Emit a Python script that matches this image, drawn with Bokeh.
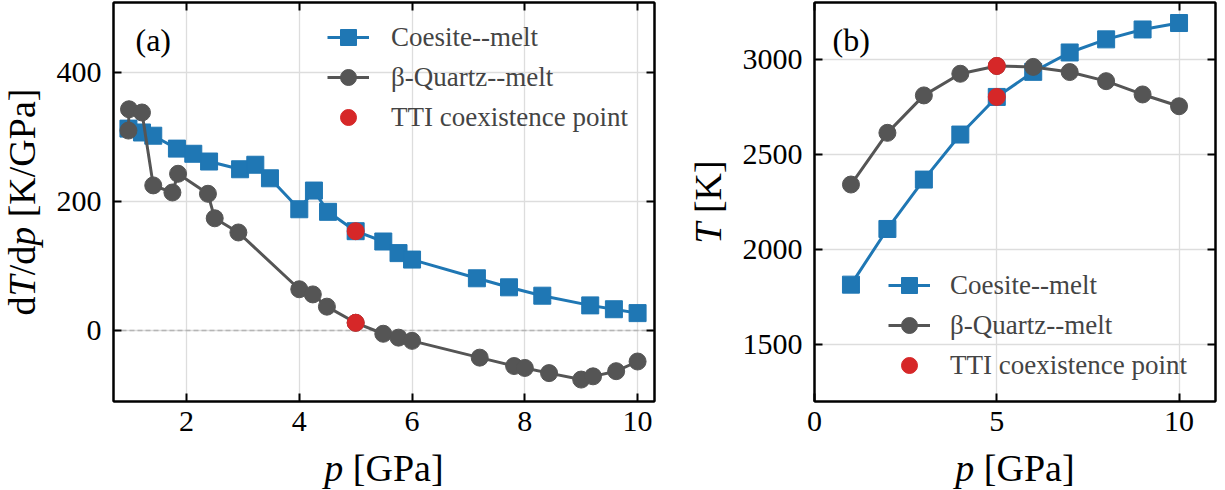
import math
from bokeh.plotting import figure
from bokeh.models import Range1d, FixedTicker, LinearAxis, Label, Legend, LegendItem, Span
from bokeh.layouts import row, column
from bokeh.embed import file_html
from bokeh.resources import INLINE

# ---------------- data ----------------
# panel (a): dT/dp vs p
coe_a_p = [0.97, 1.21, 1.41, 1.83, 2.12, 2.40, 2.95, 3.22, 3.48, 4.00, 4.26, 4.51, 5.00,
           5.49, 5.76, 6.00, 7.15, 7.72, 8.31, 9.16, 9.58, 10.00]
coe_a_dtdp = [313, 307, 302, 282, 274, 262, 250, 257, 236, 188, 217, 184, 154,
              138, 120, 110, 81, 67, 54, 39, 33, 27]
qtz_a_p = [0.97, 0.98, 1.21, 1.41, 1.75, 1.85, 2.38, 2.50, 2.92, 4.00, 4.24, 4.49, 5.00,
           5.49, 5.76, 6.00, 7.20, 7.81, 8.00, 8.43, 9.00, 9.21, 9.62, 10.00]
qtz_a_dtdp = [310, 343, 338, 225, 214, 243, 212, 174, 152, 64, 56, 37, 12,
              -5, -11, -16, -42, -55, -58, -66, -76, -71, -63, -48]
tti_a_p = [5.0, 5.0]
tti_a_dtdp = [154, 12]

# panel (b): T vs p
p_b = [1, 2, 3, 4, 5, 6, 7, 8, 9, 10]
coe_b_T = [1815, 2108, 2368, 2605, 2803, 2935, 3037, 3106, 3158, 3192]
qtz_b_T = [2342, 2614, 2811, 2925, 2966, 2961, 2934, 2886, 2816, 2754]
tti_b_p = [5, 5]
tti_b_T = [2803, 2966]

xticks_a = [2, 4, 6, 8, 10]
yticks_a = [0, 200, 400]
xticks_b = [0, 5, 10]
yticks_b = [1500, 2000, 2500, 3000]

legend_labels = ["Coesite--melt", "β-Quartz--melt", "TTI coexistence point"]

# ---------------- style ----------------
FONT = "Liberation Serif"
BLUE = "#1f77b4"
GRAY = "#555555"
RED = "#d62728"
GRID = "#dddddd"
TICK_FS = 30
LAB_FS = 38
LEG_FS = 27
PAN_FS = 32
MID = 0.3375  # em distance from alphabetic baseline up to the middle of the text box

ADV_REG = {"d": 1024, "/": 569, " ": 512, "[": 682, "]": 682, "K": 1479, "G": 1479, "P": 1139, "a": 909}
ADV_IT = {"T": 1139, "p": 1024, " ": 512}


def text_w(s, italic, size):
    tab = ADV_IT if italic else ADV_REG
    return sum(tab[c] for c in s) * size / 2048.0


def total_w(pieces, size):
    return sum(text_w(t, i, size) for t, i in pieces)


def make_fig(xr, yr, fw, fh, bl, br, bt, bb, xt, yt):
    p = figure(frame_width=fw, frame_height=fh, x_range=Range1d(*xr), y_range=Range1d(*yr),
               min_border_left=bl, min_border_right=br, min_border_top=bt, min_border_bottom=bb,
               output_backend="svg", toolbar_location=None,
               background_fill_color="white", border_fill_color="white")
    p.outline_line_color = "black"
    p.outline_line_width = 2
    p.outline_line_alpha = 1
    for ax, ticks, so in ((p.xaxis[0], xt, 10), (p.yaxis[0], yt, 12)):
        ax.ticker = FixedTicker(ticks=ticks)
        ax.major_label_text_font = FONT
        ax.major_label_text_font_size = f"{TICK_FS}px"
        ax.major_label_text_color = "black"
        ax.major_tick_in = 8
        ax.major_tick_out = 0
        ax.major_tick_line_width = 2
        ax.major_tick_line_color = "black"
        ax.minor_tick_line_color = None
        ax.axis_line_width = 2
        ax.axis_line_color = "black"
        ax.major_label_standoff = so
    p.xgrid.ticker = FixedTicker(ticks=xt)
    p.ygrid.ticker = FixedTicker(ticks=yt)
    for g in (p.xgrid, p.ygrid):
        g.grid_line_color = GRID
        g.grid_line_width = 1.3
    for loc, ticks in (("above", xt), ("right", yt)):
        ax = LinearAxis(ticker=FixedTicker(ticks=ticks), major_label_text_font_size="0px",
                        major_label_text_color=None,
                        major_label_standoff=0, major_tick_in=8, major_tick_out=0,
                        major_tick_line_width=2, minor_tick_line_color=None,
                        axis_line_width=2, axis_line_color="black")
        p.add_layout(ax, loc)
    return p


def make_strip(w, h):
    s = figure(frame_width=w, frame_height=h, x_range=Range1d(0, w), y_range=Range1d(0, h),
               min_border_left=0, min_border_right=0, min_border_top=0, min_border_bottom=0,
               x_axis_type=None, y_axis_type=None, output_backend="svg", toolbar_location=None,
               background_fill_color="white", border_fill_color="white")
    s.outline_line_color = None
    s.xgrid.visible = False
    s.ygrid.visible = False
    return s


def add_pieces(p, pieces, size, bx, by, rotated):
    """Multi-style label in canvas pixels (x from left, y from top).
    (bx, by) = start of the alphabetic baseline."""
    off = MID * size
    cum = 0.0
    for txt, it in pieces:
        body = txt.lstrip(" ")
        cum += text_w(txt[:len(txt) - len(body)], it, size)
        if rotated:
            x, y, ang = bx - off, by - cum, math.pi / 2
        else:
            x, y, ang = bx + cum, by - off, 0
        p.add_layout(Label(x=x, y=y, x_units="canvas", y_units="canvas", text=body, angle=ang,
                           text_font=FONT, text_font_size=f"{size}px",
                           text_font_style="italic" if it else "normal",
                           text_align="left", text_baseline="middle", text_color="black"))
        cum += text_w(body, it, size)


H = 490
FH = 399
FT = 2      # frame top
BB = 45     # bottom border for tick labels
MAIN_H = FT + FH + BB
STRIP_H = H - MAIN_H
XLAB_BASE = 480.5 - MAIN_H

# ---------------- panel (a) ----------------
YSA_W = 52          # y-label strip width
FWA = 541
LA = 113 - YSA_W    # left border inside figure
RA = 684 - 654
pa = make_fig((0.705, 10.30), (-110, 508.5), FWA, FH, LA, RA, FT, BB, xticks_a, yticks_a)
pa.add_layout(Span(location=0, dimension="width", line_color="#b5b5b5", line_dash="5 3",
                   line_width=1.5, level="underlay"))
la1 = pa.line(coe_a_p, coe_a_dtdp, line_color=BLUE, line_width=3)
sa1 = pa.scatter(coe_a_p, coe_a_dtdp, marker="square", size=17, fill_color=BLUE, line_color=BLUE)
la2 = pa.line(qtz_a_p, qtz_a_dtdp, line_color=GRAY, line_width=3)
sa2 = pa.scatter(qtz_a_p, qtz_a_dtdp, marker="circle", size=17, fill_color=GRAY, line_color=GRAY)
sa3 = pa.scatter(tti_a_p, tti_a_dtdp, marker="circle", size=17, fill_color=RED, line_color=RED)

leg_a = Legend(items=[LegendItem(label=legend_labels[0], renderers=[la1, sa1]),
                      LegendItem(label=legend_labels[1], renderers=[la2, sa2]),
                      LegendItem(label=legend_labels[2], renderers=[sa3])],
               location=(214, 264), orientation="vertical", glyph_width=42, glyph_height=40,
               label_height=40, label_standoff=22, spacing=0, padding=0, margin=0,
               border_line_color=None, background_fill_alpha=0,
               label_text_font=FONT, label_text_font_size=f"{LEG_FS}px")
pa.add_layout(leg_a)
pa.add_layout(Label(x=LA + 22, y=FT + 37, x_units="canvas", y_units="canvas", text="(a)",
                    text_font=FONT, text_font_size=f"{PAN_FS}px", text_baseline="middle",
                    text_align="left", text_color="black"))

ylab_a = make_strip(YSA_W, H)
yl_a = [("d", False), ("T", True), ("/d", False), ("p", True), (" [K/GPa]", False)]
add_pieces(ylab_a, yl_a, LAB_FS, 34, FT + FH / 2 + total_w(yl_a, LAB_FS) / 2, True)

xlab_a = make_strip(LA + FWA + RA, STRIP_H)
xl = [("p", True), (" [GPa]", False)]
add_pieces(xlab_a, xl, LAB_FS, LA + FWA / 2 - total_w(xl, LAB_FS) / 2, XLAB_BASE, False)

# ---------------- panel (b) ----------------
YSB_X = 684
YSB_W = 735 - YSB_X
FWB = 401
LB = 814 - 735
RB = 1225 - 735 - LB - FWB
pb = make_fig((0, 11), (1200, 3300), FWB, FH, LB, RB, FT, BB, xticks_b, yticks_b)
lb1 = pb.line(p_b, coe_b_T, line_color=BLUE, line_width=3)
sb1 = pb.scatter(p_b, coe_b_T, marker="square", size=17, fill_color=BLUE, line_color=BLUE)
lb2 = pb.line(p_b, qtz_b_T, line_color=GRAY, line_width=3)
sb2 = pb.scatter(p_b, qtz_b_T, marker="circle", size=17, fill_color=GRAY, line_color=GRAY)
sb3 = pb.scatter(tti_b_p, tti_b_T, marker="circle", size=17, fill_color=RED, line_color=RED)

leg_b = Legend(items=[LegendItem(label=legend_labels[0], renderers=[lb1, sb1]),
                      LegendItem(label=legend_labels[1], renderers=[lb2, sb2]),
                      LegendItem(label=legend_labels[2], renderers=[sb3])],
               location=(74, 16), orientation="vertical", glyph_width=42, glyph_height=40,
               label_height=40, label_standoff=20, spacing=0, padding=0, margin=0,
               border_line_color=None, background_fill_alpha=0,
               label_text_font=FONT, label_text_font_size=f"{LEG_FS}px")
pb.add_layout(leg_b)
pb.add_layout(Label(x=LB + 18, y=FT + 37, x_units="canvas", y_units="canvas", text="(b)",
                    text_font=FONT, text_font_size=f"{PAN_FS}px", text_baseline="middle",
                    text_align="left", text_color="black"))

ylab_b = make_strip(YSB_W, H)
yl_b = [("T", True), (" [K]", False)]
add_pieces(ylab_b, yl_b, LAB_FS, 720 - YSB_X, FT + FH / 2 + total_w(yl_b, LAB_FS) / 2, True)

xlab_b = make_strip(LB + FWB + RB, STRIP_H)
add_pieces(xlab_b, xl, LAB_FS, LB + FWB / 2 - total_w(xl, LAB_FS) / 2, XLAB_BASE, False)

layout = row(ylab_a, column(pa, xlab_a), ylab_b, column(pb, xlab_b))
open("out.html", "w").write(file_html(layout, INLINE))
